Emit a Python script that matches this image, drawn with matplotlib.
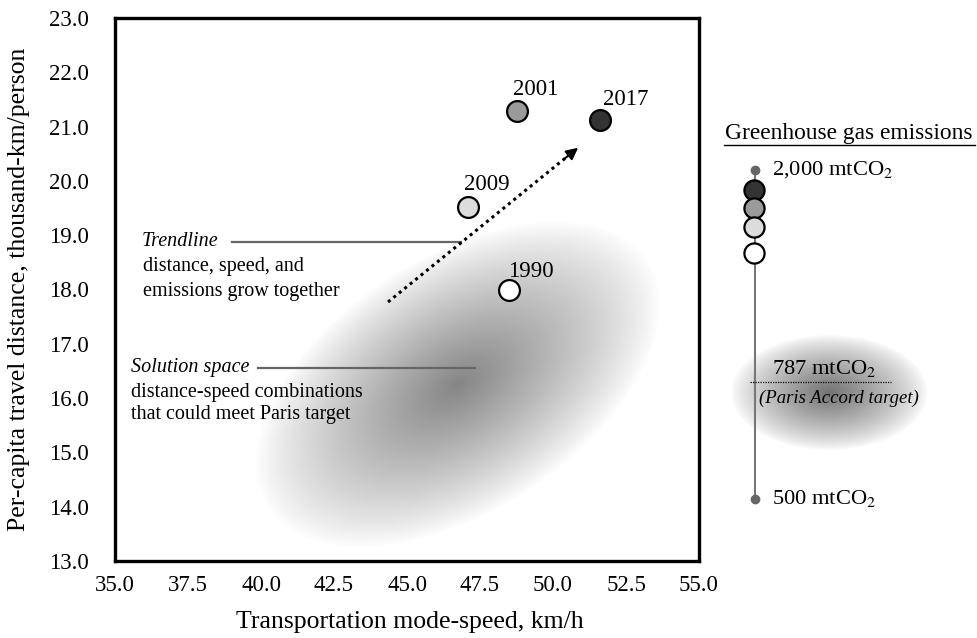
import matplotlib
matplotlib.use('Agg')
import matplotlib.pyplot as plt
import numpy as np

plt.rcParams['font.family'] = ['Liberation Serif', 'DejaVu Serif']
plt.rcParams['mathtext.fontset'] = 'stix'

# data
years = [1990, 2001, 2009, 2017]
speed = [48.5, 48.75, 47.1, 51.6]          # km/h
distance = [18.0, 21.28, 19.52, 21.12]     # thousand-km/person
emissions = [1410, 1705, 1575, 1840]       # mtCO2 (schematic scale)
face = ['white', '#9a9a9a', '#dcdcdc', '#333333']
label_off = [(-1, 18), (-3, 22), (-4, 22), (3, 21)]

trend_start = (44.35, 17.77)
trend_end = (50.86, 20.61)

xticks = [35.0, 37.5, 40.0, 42.5, 45.0, 47.5, 50.0, 52.5, 55.0]
yticks = [13.0, 14.0, 15.0, 16.0, 17.0, 18.0, 19.0, 20.0, 21.0, 22.0, 23.0]

em_low, em_high, paris = 500, 2000, 787

fig = plt.figure(figsize=(9.78, 6.38), dpi=100)
ax = fig.add_axes([115/978, (638-561)/638, (699-115)/978, (561-18)/638])
ax.set_xlim(35, 55)
ax.set_ylim(13, 23)

# solution space blob (soft rotated ellipse)
gx = np.linspace(35, 55, 600)
gy = np.linspace(13, 23, 400)
X, Y = np.meshgrid(gx, gy)
px = (X - 46.75) * 29.2
py = (Y - 16.25) * 54.3
th = np.deg2rad(33)
u = px*np.cos(th) + py*np.sin(th)
v = -px*np.sin(th) + py*np.cos(th)
r = np.sqrt((u/228)**2 + (v/128)**2)
dark = np.clip(1 - r, 0, 1)**0.85 * 0.48
img = np.zeros((400, 600, 4))
img[..., 3] = dark
ax.imshow(img, extent=[35, 55, 13, 23], origin='lower', aspect='auto', zorder=0)

ax.plot([trend_start[0], trend_end[0]-0.3], [trend_start[1], trend_end[1]-0.13],
        ls=(0, (1, 1.3)), color='black', lw=2.2, zorder=2)
ax.annotate('', xy=trend_end, xytext=(trend_end[0]-0.5, trend_end[1]-0.216),
            arrowprops=dict(arrowstyle='-|>,head_length=0.7,head_width=0.35',
                            color='black', lw=1.5, shrinkA=0, shrinkB=0), zorder=3)

for i in range(len(years)):
    ax.plot(speed[i], distance[i], 'o', ms=15, mfc=face[i], mec='black', mew=1.6, zorder=4)
    ax.annotate(str(years[i]), (speed[i], distance[i]), xytext=label_off[i],
                textcoords='offset pixels', fontsize=16.5, va='center', ha='left', zorder=5)

# annotations
ax.plot([39.0, 46.85], [18.87, 18.87], color='#666666', lw=1.6, zorder=1)
ax.text(35.92, 18.89, 'Trendline', fontsize=14.5, style='italic', va='center')
ax.text(35.95, 18.43, 'distance, speed, and', fontsize=14.5, va='center')
ax.text(35.95, 17.97, 'emissions grow together', fontsize=14.5, va='center')

ax.plot([39.9, 47.33], [16.55, 16.55], color='#666666', lw=1.6, zorder=1)
ax.text(35.55, 16.57, 'Solution space', fontsize=14.5, style='italic', va='center')
ax.text(35.55, 16.11, 'distance-speed combinations', fontsize=14.5, va='center')
ax.text(35.55, 15.69, 'that could meet Paris target', fontsize=14.5, va='center')

ax.set_xticks(xticks)
ax.set_yticks(yticks)
ax.set_xticklabels(['%.1f' % t for t in xticks])
ax.set_yticklabels(['%.1f' % t for t in yticks])
ax.tick_params(length=0, labelsize=16.5)
ax.tick_params(axis='y', pad=19)
ax.tick_params(axis='x', pad=10)
for s in ax.spines.values():
    s.set_linewidth(2.4)
ax.set_xlabel('Transportation mode-speed, km/h', fontsize=18.5)
ax.set_ylabel('Per-capita travel distance, thousand-km/person', fontsize=18.5)
ax.xaxis.set_label_coords(0.505, -0.092)
ax.yaxis.set_label_coords(-0.145, 0.5)

# emissions gauge on the right
ax2 = fig.add_axes([715/978, (638-530)/638, (978-715)/978, (530-120)/638], zorder=2)
ax2.set_xlim(715, 978)
ax2.set_yscale('log')
ax2.set_ylim(438.7, 2469)
ax2.axis('off')
ax2.plot([755, 755], [em_low, em_high], color='#777777', lw=1.5, zorder=1)
ax2.plot([755, 755], [em_low, em_high], 'o', ms=6, color='#666666', zorder=2)
order = np.argsort(emissions)[::-1]
for i in order:
    ax2.plot(754, emissions[i], 'o', ms=14.5, mfc=face[i], mec='black', mew=1.6, zorder=3)
ax2.text(772, em_high, '2,000 mtCO$_2$', fontsize=16.2, va='center')
ax2.text(772, em_low, '500 mtCO$_2$', fontsize=16.2, va='center')
ax2.plot([750, 891], [paris*1.04, paris*1.04], ls=(0, (1, 1)), color='black', lw=0.9, zorder=2)
ax2.text(772, paris*1.055, '787 mtCO$_2$', fontsize=16.2, va='bottom')
ax2.text(759, paris*1.005, '(Paris Accord target)', fontsize=13.5, style='italic', va='top')

# right blob
bw, bh = 230, 140
yy, xx = np.mgrid[0:bh, 0:bw]
rr = np.sqrt(((xx - 97) / 99.0)**2 + ((yy - 62) / 58.0)**2)
bimg = np.zeros((bh, bw, 4))
bimg[..., 3] = np.clip(1 - rr, 0, 1)**0.8 * 0.55
fig.figimage(bimg, xo=732, yo=638-(330+bh), origin='upper', zorder=1)

fig.text(849/978, 1-133/638, 'Greenhouse gas emissions', fontsize=16.8, ha='center', va='center')
fig.add_artist(plt.Line2D([724/978, 975/978], [1-145/638, 1-145/638], color='black', lw=1.0))

fig.savefig('out.png', dpi=100)
